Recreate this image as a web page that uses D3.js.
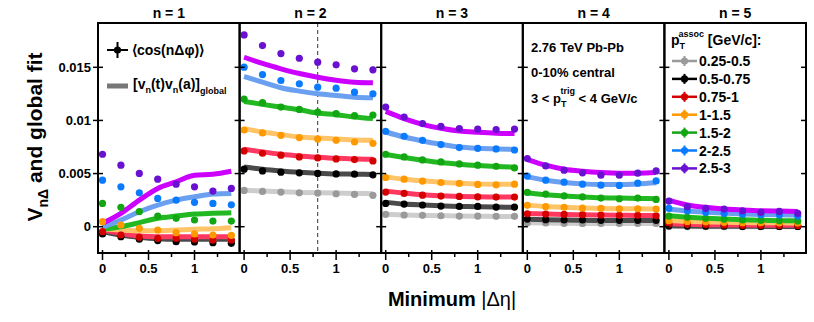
<!doctype html>
<html lang="en">
<head>
  <meta charset="utf-8">
  <title>Vn delta and global fit</title>
  <style>
    body { margin: 0; background: #fff; }
    svg { display: block; font-family: "Liberation Sans", Arial, Helvetica, sans-serif; }
    .frame { fill: none; stroke: #000; stroke-width: 2; }
    .tick { stroke: #000; stroke-width: 1.5; }
    .ticklab { font-size: 13px; font-weight: bold; }
    .fit { fill: none; stroke-width: 5; }
  </style>
</head>
<body>
  <div id="chart"></div>
  <script src="https://cdn.jsdelivr.net/npm/d3@7"></script>
  <script>
// x positions of the points (minimum |delta eta|)
var etaMin = [0, 0.2, 0.4, 0.6, 0.8, 1.0, 1.2, 1.4];
var harmonics = [1, 2, 3, 4, 5];
var ptBins = ["0.25-0.5", "0.5-0.75", "0.75-1", "1-1.5", "1.5-2", "2-2.5", "2.5-3"];
var ptColor = ["#9a9a9a", "#000000", "#d40000", "#ff9900", "#12a612", "#0a7bff", "#6a10d0"];
var fitColor = ["#cdcdcd", "#4a4a4a", "#ff3860", "#ffc468", "#22b822", "#6b9ff0", "#cc00ff"];
var yTicks = [0, 0.005, 0.01, 0.015];
var xTicks = [0, 0.5, 1];
var xMinor = [0.25, 0.75, 1.25];

// measured V_n delta, one row per pT bin (low -> high)
var n1Pts = [
  [-0.0005, -0.0008, -0.001, -0.0011, -0.0012, -0.0012, -0.0013, -0.0013],
  [-0.00068, -0.00094, -0.00118, -0.00131, -0.00141, -0.00144, -0.0015, -0.00156],
  [-0.00047, -0.00078, -0.00099, -0.00109, -0.00109, -0.00118, -0.00125, -0.00125],
  [0.00047, 0.00016, -0.00015, -0.00031, -0.00056, -0.00068, -0.00078, -0.00081],
  [0.00219, 0.00182, 0.00141, 0.001, 0.00079, 0.00063, 0.00053, 0.00053],
  [0.00438, 0.00375, 0.00319, 0.00266, 0.0025, 0.00229, 0.00219, 0.00206],
  [0.00682, 0.00579, 0.00501, 0.00447, 0.004, 0.00375, 0.00335, 0.0036]
];
var n2Pts = [
  [0.00341, 0.00332, 0.00326, 0.00319, 0.00316, 0.0031, 0.00304, 0.00295],
  [0.00541, 0.00525, 0.00513, 0.00507, 0.00501, 0.00497, 0.00494, 0.00488],
  [0.00713, 0.00691, 0.00673, 0.00657, 0.00647, 0.00638, 0.00632, 0.00619],
  [0.0091, 0.00882, 0.0086, 0.00839, 0.00825, 0.00813, 0.00797, 0.00785],
  [0.01201, 0.01167, 0.01126, 0.01104, 0.01079, 0.01064, 0.01045, 0.01051],
  [0.01501, 0.01432, 0.01376, 0.01345, 0.01313, 0.01304, 0.01266, 0.01251],
  [0.01805, 0.01704, 0.01629, 0.01585, 0.01548, 0.01523, 0.01486, 0.01476]
];
var n3Pts = [
  [0.00116, 0.0011, 0.00107, 0.00103, 0.001, 0.001, 0.00098, 0.00098],
  [0.00219, 0.00213, 0.00204, 0.00194, 0.00191, 0.00191, 0.00185, 0.00185],
  [0.00326, 0.00313, 0.00297, 0.00288, 0.00285, 0.00281, 0.00279, 0.00279],
  [0.00463, 0.00447, 0.00429, 0.00416, 0.00407, 0.00398, 0.00394, 0.004],
  [0.00682, 0.00657, 0.00628, 0.0061, 0.00591, 0.00579, 0.00569, 0.00553],
  [0.00898, 0.00851, 0.00813, 0.00773, 0.00745, 0.00738, 0.00732, 0.00722],
  [0.01126, 0.01032, 0.0097, 0.00945, 0.00923, 0.00919, 0.00914, 0.00919]
];
var n4Pts = [
  [0.00038, 0.00035, 0.00032, 0.00031, 0.0003, 0.0003, 0.0003, 0.0003],
  [0.00072, 0.00066, 0.00063, 0.00063, 0.0006, 0.0006, 0.0006, 0.0006],
  [0.00122, 0.00119, 0.00116, 0.00113, 0.0011, 0.00107, 0.00107, 0.00103],
  [0.00201, 0.00188, 0.00182, 0.00175, 0.00173, 0.00169, 0.00169, 0.00166],
  [0.00323, 0.00307, 0.00291, 0.00281, 0.00269, 0.00263, 0.00269, 0.00257],
  [0.00476, 0.00438, 0.00419, 0.004, 0.00391, 0.00388, 0.0041, 0.00431],
  [0.00642, 0.00572, 0.00532, 0.00507, 0.00485, 0.00485, 0.00504, 0.00525]
];
var n5Pts = [
  [0.00002, 0.00001, 0.0, 0.0, 0.0, 0.0, 0.0, 0.0],
  [0.00008, 0.00006, 0.00005, 0.00004, 0.00003, 0.00003, 0.00003, 0.00003],
  [0.00025, 0.00022, 0.00019, 0.00016, 0.00013, 0.00013, 0.00012, 0.00012],
  [0.00056, 0.0005, 0.00044, 0.00041, 0.00038, 0.00038, 0.00035, 0.00035],
  [0.001, 0.00088, 0.00079, 0.00072, 0.00063, 0.0006, 0.00056, 0.00053],
  [0.00173, 0.0015, 0.00135, 0.00126, 0.00116, 0.00113, 0.0011, 0.001],
  [0.00241, 0.00188, 0.00173, 0.00166, 0.0015, 0.00135, 0.00144, 0.00126]
];

// global fit [v_n(t) v_n(a)]
var n1Fit = [
  [-0.0004, -0.0007, -0.0009, -0.001, -0.0011, -0.0011, -0.0011, -0.0011],
  [-0.00047, -0.00078, -0.00099, -0.00113, -0.00118, -0.00118, -0.00118, -0.00118],
  [-0.00031, -0.00062, -0.00087, -0.00094, -0.00094, -0.00094, -0.00094, -0.00094],
  [-0.00019, -0.00031, -0.00038, -0.00038, -0.00031, -0.00024, -0.00019, -0.00009],
  [-0.00024, 0.0, 0.00038, 0.00079, 0.001, 0.00119, 0.00126, 0.00131],
  [-0.00006, 0.00063, 0.00141, 0.00204, 0.0025, 0.00281, 0.00307, 0.00313],
  [0.00032, 0.00126, 0.0025, 0.0036, 0.00422, 0.00485, 0.00494, 0.00522]
];
var n2Fit = [
  [0.00344, 0.00335, 0.00328, 0.00323, 0.00319, 0.00316, 0.00313, 0.0031],
  [0.00563, 0.00541, 0.00525, 0.00513, 0.00504, 0.00497, 0.00494, 0.00491],
  [0.00729, 0.00704, 0.00682, 0.00666, 0.00654, 0.00644, 0.00638, 0.00635],
  [0.00923, 0.00891, 0.00867, 0.00844, 0.00835, 0.00825, 0.00816, 0.00813],
  [0.01179, 0.01151, 0.01126, 0.01101, 0.01069, 0.01054, 0.01032, 0.01017],
  [0.01414, 0.0136, 0.01308, 0.01276, 0.01251, 0.01235, 0.01219, 0.01214],
  [0.01595, 0.01536, 0.01486, 0.01442, 0.01407, 0.01379, 0.0136, 0.01354]
];
var n3Fit = [
  [0.00118, 0.00111, 0.00106, 0.00103, 0.001, 0.00099, 0.00097, 0.00096],
  [0.00229, 0.00213, 0.00204, 0.00197, 0.00191, 0.00188, 0.00185, 0.00182],
  [0.00335, 0.00316, 0.003, 0.00291, 0.00285, 0.00281, 0.00279, 0.00279],
  [0.00469, 0.00447, 0.00432, 0.00419, 0.0041, 0.00403, 0.004, 0.004],
  [0.00679, 0.00651, 0.00626, 0.00604, 0.00588, 0.00576, 0.00567, 0.0056],
  [0.00891, 0.00844, 0.00807, 0.00776, 0.0075, 0.00738, 0.00732, 0.00729],
  [0.01085, 0.01017, 0.00963, 0.00926, 0.009, 0.00888, 0.00879, 0.00876]
];
var n4Fit = [
  [0.00038, 0.00034, 0.00032, 0.00031, 0.0003, 0.0003, 0.0003, 0.0003],
  [0.0007, 0.00065, 0.00062, 0.0006, 0.00059, 0.00058, 0.00058, 0.00058],
  [0.00125, 0.00119, 0.00115, 0.00112, 0.0011, 0.00108, 0.00106, 0.00105],
  [0.00203, 0.0019, 0.00182, 0.00176, 0.00172, 0.0017, 0.00168, 0.00167],
  [0.00319, 0.003, 0.00288, 0.00279, 0.00272, 0.00269, 0.00266, 0.00263],
  [0.00469, 0.00438, 0.00416, 0.00403, 0.00398, 0.00398, 0.00403, 0.00413],
  [0.00632, 0.00579, 0.00541, 0.00522, 0.0051, 0.00504, 0.00504, 0.0051]
];
var n5Fit = [
  [0.00002, 0.00001, 0.0, 0.0, 0.0, 0.0, 0.0, 0.0],
  [0.0001, 0.00007, 0.00005, 0.00004, 0.00004, 0.00003, 0.00003, 0.00003],
  [0.00027, 0.00022, 0.00019, 0.00017, 0.00015, 0.00014, 0.00013, 0.00013],
  [0.00058, 0.0005, 0.00045, 0.00041, 0.00039, 0.00037, 0.00036, 0.00035],
  [0.00102, 0.0009, 0.0008, 0.00072, 0.00065, 0.0006, 0.00057, 0.00055],
  [0.00165, 0.00148, 0.00137, 0.00128, 0.0012, 0.00115, 0.00112, 0.0011],
  [0.0025, 0.00204, 0.00182, 0.00166, 0.00157, 0.0015, 0.00147, 0.00144]
];

// statistical errors of the highest pT bin (others are inside the markers)
var n1Err = [0.0001, 0.0001, 0.0001, 0.00012, 0.00015, 0.0002, 0.00025, 0.0003];
var n2Err = [0.0001, 0.0001, 0.0001, 0.00012, 0.00015, 0.0002, 0.00025, 0.0003];
var n3Err = [0.0001, 0.0001, 0.0001, 0.0001, 0.00012, 0.00015, 0.0002, 0.00025];
var n4Err = [0.0001, 0.0001, 0.0001, 0.0001, 0.0001, 0.00012, 0.00018, 0.00022];
var n5Err = [0.0001, 0.0001, 0.0001, 0.0001, 0.0001, 0.00012, 0.00015, 0.0002];

var allPts = [n1Pts, n2Pts, n3Pts, n4Pts, n5Pts];
var allFit = [n1Fit, n2Fit, n3Fit, n4Fit, n5Fit];
var allErr = [n1Err, n2Err, n3Err, n4Err, n5Err];

var width = 814, height = 322;
var panelLeft = 98, panelW = 141.6, plotTop = 23, plotBottom = 253;

var svg = d3.select("#chart").append("svg")
    .attr("width", width)
    .attr("height", height);

var y = d3.scaleLinear().domain([0, 0.015]).range([226.7, 67.3]);

var line = d3.line()
    .x(function(d) { return d[0]; })
    .y(function(d) { return d[1]; })
    .curve(d3.curveMonotoneX);

harmonics.forEach(function(n, i) {
  var x0 = panelLeft + i * panelW;
  var x = d3.scaleLinear().domain([-0.049, 1.49]).range([x0, x0 + panelW]);
  var g = svg.append("g");

  g.append("text")
      .attr("x", x0 + panelW / 2)
      .attr("y", 18)
      .attr("text-anchor", "middle")
      .style("font-size", "14px")
      .style("font-weight", "bold")
      .text("n = " + n);

  var clip = "clip" + n;
  g.append("clipPath").attr("id", clip)
    .append("rect").attr("x", x0).attr("y", plotTop).attr("width", panelW).attr("height", plotBottom - plotTop);

  var body = g.append("g").attr("clip-path", "url(#" + clip + ")");

  if (n == 2) {
    body.append("line")
        .attr("x1", x(0.8)).attr("x2", x(0.8))
        .attr("y1", plotTop).attr("y2", plotBottom)
        .attr("stroke", "#333")
        .attr("stroke-width", 1)
        .attr("stroke-dasharray", "4,3");
  }

  // fit bands, then the points
  allFit[i].forEach(function(vals, s) {
    body.append("path")
        .attr("class", "fit")
        .attr("stroke", fitColor[s])
        .attr("d", line(vals.map(function(v, k) { return [x(etaMin[k]), y(v)]; })));
  });

  allPts[i].forEach(function(vals, s) {
    var pg = body.append("g").attr("fill", ptColor[s]);
    if (s == 6) {
      pg.selectAll("line")
        .data(vals)
        .enter().append("line")
          .attr("x1", function(d, k) { return x(etaMin[k]); })
          .attr("x2", function(d, k) { return x(etaMin[k]); })
          .attr("y1", function(d, k) { return y(d + allErr[i][k]); })
          .attr("y2", function(d, k) { return y(d - allErr[i][k]); })
          .attr("stroke", ptColor[s])
          .attr("stroke-width", 2);
    }
    pg.selectAll("circle")
      .data(vals)
      .enter().append("circle")
        .attr("cx", function(d, k) { return x(etaMin[k]); })
        .attr("cy", function(d) { return y(d); })
        .attr("r", 3.6);
  });

  // frame
  g.append("rect")
      .attr("class", "frame")
      .attr("x", x0).attr("y", plotTop)
      .attr("width", panelW).attr("height", plotBottom - plotTop);

  // y ticks inside both sides
  yTicks.forEach(function(t) {
    g.append("line").attr("class", "tick")
        .attr("x1", x0).attr("x2", x0 + 5)
        .attr("y1", y(t)).attr("y2", y(t));
    g.append("line").attr("class", "tick")
        .attr("x1", x0 + panelW - 5).attr("x2", x0 + panelW)
        .attr("y1", y(t)).attr("y2", y(t));
  });

  // x ticks below the frame
  xTicks.forEach(function(t) {
    g.append("line").attr("class", "tick")
        .attr("x1", x(t)).attr("x2", x(t))
        .attr("y1", plotBottom - 3).attr("y2", plotBottom + 7);
    g.append("text").attr("class", "ticklab")
        .attr("x", x(t)).attr("y", 273)
        .attr("text-anchor", "middle")
        .text(t);
  });
  xMinor.forEach(function(t) {
    g.append("line").attr("class", "tick")
        .attr("x1", x(t)).attr("x2", x(t))
        .attr("y1", plotBottom).attr("y2", plotBottom + 4);
  });
});

// y axis labels on the first panel
yTicks.forEach(function(t) {
  svg.append("line").attr("class", "tick")
      .attr("x1", panelLeft - 5).attr("x2", panelLeft)
      .attr("y1", y(t)).attr("y2", y(t));
  svg.append("text").attr("class", "ticklab")
      .attr("x", panelLeft - 7).attr("y", y(t) + 4.5)
      .attr("text-anchor", "end")
      .text(t == 0 ? "0" : String(t));
});

// axis titles
var yt = svg.append("text")
    .attr("transform", "translate(42,137) rotate(-90)")
    .attr("text-anchor", "middle")
    .style("font-size", "21px")
    .style("font-weight", "bold");
yt.append("tspan").text("V");
yt.append("tspan").attr("dy", 6).style("font-size", "14px").text("n\u0394");
yt.append("tspan").attr("dy", -6).text(" and global fit");

var xt = svg.append("text")
    .attr("x", 452).attr("y", 306)
    .attr("text-anchor", "middle")
    .style("font-size", "20px");
xt.append("tspan").style("font-weight", "bold").text("Minimum ");
xt.append("tspan").text("|\u0394\u03b7|");

// legend, panel 1
var lg = svg.append("g").style("font-weight", "bold").style("font-size", "14px");
lg.append("line").attr("x1", 107).attr("x2", 128).attr("y1", 50).attr("y2", 50)
    .attr("stroke", "#000").attr("stroke-width", 2);
lg.append("line").attr("x1", 117.5).attr("x2", 117.5).attr("y1", 42).attr("y2", 58)
    .attr("stroke", "#000").attr("stroke-width", 2);
lg.append("circle").attr("cx", 117.5).attr("cy", 50).attr("r", 3.6);
lg.append("text").attr("x", 132).attr("y", 55).text("\u27e8cos(n\u0394\u03c6)\u27e9");
lg.append("line").attr("x1", 107).attr("x2", 128).attr("y1", 86).attr("y2", 86)
    .attr("stroke", "#777").attr("stroke-width", 5);
var lt = lg.append("text").attr("x", 133).attr("y", 89);
lt.append("tspan").text("[v");
lt.append("tspan").attr("dy", 4).style("font-size", "9px").text("n");
lt.append("tspan").attr("dy", -4).text("(t)v");
lt.append("tspan").attr("dy", 4).style("font-size", "9px").text("n");
lt.append("tspan").attr("dy", -4).text("(a)]");
lt.append("tspan").attr("dy", 5).style("font-size", "9px").text("global");

// text, panel 4
var info = svg.append("g").style("font-weight", "bold").style("font-size", "13px");
info.append("text").attr("x", 531).attr("y", 52).text("2.76 TeV Pb-Pb");
info.append("text").attr("x", 531).attr("y", 77).text("0-10% central");
var tr = info.append("text").attr("x", 531).attr("y", 103);
tr.append("tspan").text("3 < p");
tr.append("tspan").attr("dy", 4).style("font-size", "9px").text("T");
tr.append("tspan").attr("dx", -6).attr("dy", -13).style("font-size", "9px").text("trig");
tr.append("tspan").attr("dy", 9).text(" < 4 GeV/c");

// pT legend, panel 5
var pl = svg.append("g").style("font-weight", "bold").style("font-size", "14px");
var ph = pl.append("text").attr("x", 671).attr("y", 45);
ph.append("tspan").text("p");
ph.append("tspan").attr("dy", 4).style("font-size", "9px").text("T");
ph.append("tspan").attr("dx", -6).attr("dy", -12).style("font-size", "9px").text("assoc");
ph.append("tspan").attr("dy", 8).text(" [GeV/c]:");

ptBins.forEach(function(b, s) {
  var ly = 61 + s * 17.9;
  pl.append("line").attr("x1", 672).attr("x2", 697).attr("y1", ly).attr("y2", ly)
      .attr("stroke", ptColor[s]).attr("stroke-width", 2.5);
  pl.append("line").attr("x1", 684.5).attr("x2", 684.5).attr("y1", ly - 5).attr("y2", ly + 5)
      .attr("stroke", ptColor[s]).attr("stroke-width", 2);
  pl.append("circle").attr("cx", 684.5).attr("cy", ly).attr("r", 3.6).attr("fill", ptColor[s]);
  pl.append("text").attr("x", 699).attr("y", ly + 5).text(b);
});
  </script>
</body>
</html>
